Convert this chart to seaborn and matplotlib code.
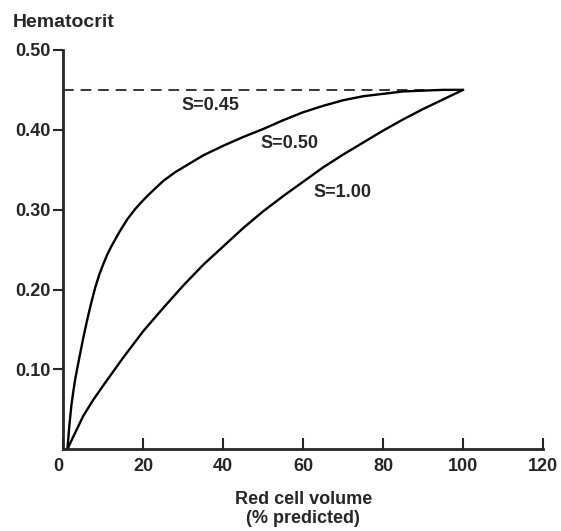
import matplotlib
matplotlib.use("Agg")
import matplotlib.pyplot as plt
import seaborn as sns
import pandas as pd

# ---------------------------------------
# Values
# ---------------------------------------
# S = 0.45 : flat hematocrit
vol_s045 = [0, 100]
hct_s045 = [0.45, 0.45]

# S = 0.50
vol_s050 = [1, 1.5, 2, 2.5, 3, 3.5, 4, 5, 6, 7, 8, 9, 10, 11, 12, 14, 16, 18, 20, 22,
            25, 28, 31, 35, 40, 45, 50, 55, 60, 65, 70, 75, 80, 85, 90, 95, 100]
hct_s050 = [0.0, 0.030, 0.055, 0.073, 0.089, 0.102, 0.115, 0.140, 0.163, 0.184, 0.203,
            0.219, 0.232, 0.244, 0.254, 0.272, 0.288, 0.301, 0.312, 0.322, 0.336, 0.347,
            0.356, 0.368, 0.380, 0.391, 0.401, 0.412, 0.422, 0.430, 0.437, 0.442, 0.445,
            0.448, 0.449, 0.450, 0.450]

# S = 1.00
vol_s100 = [1, 2.5, 5, 7.5, 10, 15, 20, 25, 30, 35, 40, 45, 50, 55, 60, 65, 70, 75, 80,
            85, 90, 95, 100]
hct_s100 = [0.0, 0.016, 0.042, 0.062, 0.080, 0.115, 0.148, 0.177, 0.205, 0.231, 0.254,
            0.277, 0.298, 0.317, 0.335, 0.353, 0.369, 0.384, 0.399, 0.413, 0.426, 0.438,
            0.450]

curve_labels = ["S=0.45", "S=0.50", "S=1.00"]
x_ticks = [0, 20, 40, 60, 80, 100, 120]
y_ticks = [0.10, 0.20, 0.30, 0.40, 0.50]

# ---------------------------------------
# Style
# ---------------------------------------
sns.set_style("ticks")
plt.rcParams['font.family'] = ['Liberation Sans', 'DejaVu Sans']
plt.rcParams['font.weight'] = 'bold'

fig = plt.figure(figsize=(5.61, 5.31), dpi=100)
ax = fig.add_axes([0.113, 0.154, 0.855, 0.752])

# ---------------------------------------
# Curves
# ---------------------------------------
sns.lineplot(x=vol_s045, y=hct_s045, ax=ax, color="black", lw=1.1, sort=False)
ax.lines[-1].set_dashes((7, 4.5))
sns.lineplot(x=vol_s050, y=hct_s050, ax=ax, color="black", lw=1.7, sort=False)
sns.lineplot(x=vol_s100, y=hct_s100, ax=ax, color="black", lw=1.7, sort=False)

txt_kw = dict(ha="center", va="center", fontsize=13, fontweight="bold")
ax.text(36.7, 0.430, curve_labels[0], **txt_kw)
ax.text(56.5, 0.383, curve_labels[1], **txt_kw)
ax.text(69.8, 0.321, curve_labels[2], **txt_kw)

# ---------------------------------------
# Axes
# ---------------------------------------
ax.set_xlim(0, 120)
ax.set_ylim(0, 0.50)
ax.set_xticks(x_ticks)
ax.set_xticklabels([str(t) for t in x_ticks])
ax.set_yticks(y_ticks)
ax.set_yticklabels([f"{t:.2f}" for t in y_ticks])
ax.xaxis.get_majorticklabels()[0].set_horizontalalignment("right")

ax.tick_params(axis="x", direction="in", length=8, width=1.5, pad=6, labelsize=13)
ax.tick_params(axis="y", direction="out", length=7, width=1.5, pad=2, labelsize=13)
for lab in ax.get_xticklabels() + ax.get_yticklabels():
    lab.set_fontweight("bold")

sns.despine(ax=ax)
for side in ["left", "bottom"]:
    ax.spines[side].set_linewidth(2)

ax.set_xlabel("Red cell volume\n(% predicted)", fontsize=13, fontweight="bold",
              labelpad=12, linespacing=1.1)
ax.set_ylabel("")
fig.text(0.023, 0.958, "Hematocrit", fontsize=14, fontweight="bold",
         ha="left", va="center")

fig.savefig("out.png", dpi=100)
